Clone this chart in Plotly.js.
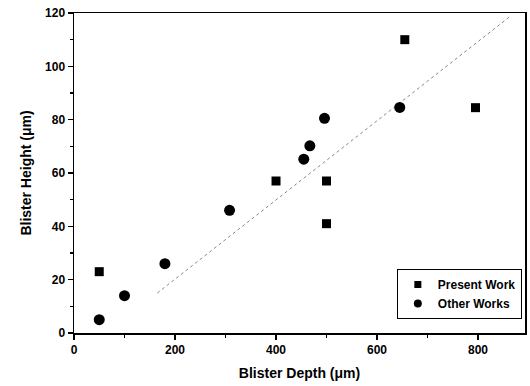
<!DOCTYPE html>
<html><head><meta charset="utf-8">
<script src="https://cdn.plot.ly/plotly-3.0.1.min.js"></script>
<style>html,body{margin:0;padding:0;background:#fff}#chart{width:530px;height:386px}</style>
</head><body><div id="chart"></div>
<script>
const presentDepth = [50, 400, 500, 500, 655, 795];
const presentHeight = [23, 57, 57, 41, 110, 84.5];
const otherDepth = [50, 100, 180, 308, 455, 467, 496, 645];
const otherHeight = [5, 14, 26, 46, 65.2, 70.2, 80.5, 84.6];
const fitDepth = [165, 862];
const fitHeight = [15, 118.5];
const seriesNames = ['Present Work', 'Other Works'];

const F = 'Liberation Sans, Arial, sans-serif';
const traces = [
  {x: fitDepth, y: fitHeight, mode: 'lines', showlegend: false, hoverinfo: 'skip',
   line: {color: '#888', width: 1, dash: 'dot'}},
  {x: presentDepth, y: presentHeight, mode: 'markers', name: seriesNames[0], showlegend: false,
   legendgroup: 'p', marker: {symbol: 'square', size: 9, color: '#000'}},
  {x: otherDepth, y: otherHeight, mode: 'markers', name: seriesNames[1], showlegend: false,
   legendgroup: 'o', marker: {symbol: 'circle', size: 11, color: '#000'}},
  {x: [null], y: [null], mode: 'markers', name: seriesNames[0], legendgroup: 'p',
   marker: {symbol: 'square', size: 7, color: '#000'}},
  {x: [null], y: [null], mode: 'markers', name: seriesNames[1], legendgroup: 'o',
   marker: {symbol: 'circle', size: 8, color: '#000'}}
];
const axisCommon = {
  showgrid: false, zeroline: false, showline: true, linecolor: '#000', linewidth: 1.5,
  mirror: true, ticks: 'outside', ticklen: 5, tickwidth: 1.2, tickcolor: '#000',
  tickfont: {family: F, size: 12, color: '#000', weight: 'bold'}
};
const layout = {
  width: 530, height: 386,
  margin: {l: 74, r: 5, t: 13, b: 53},
  paper_bgcolor: '#fff', plot_bgcolor: '#fff',
  font: {family: F, color: '#000'},
  xaxis: Object.assign({}, axisCommon, {
    range: [0, 893], tickvals: [0, 200, 400, 600, 800],
    minor: {tickvals: [100, 300, 500, 700], ticks: 'outside', ticklen: 3, tickcolor: '#000'},
    title: {text: '<b>Blister Depth (μm)</b>', font: {family: F, size: 14, color: '#000'}, standoff: 12}
  }),
  yaxis: Object.assign({}, axisCommon, {
    range: [0, 120], tickvals: [0, 20, 40, 60, 80, 100, 120],
    minor: {tickvals: [10, 30, 50, 70, 90, 110], ticks: 'outside', ticklen: 3, tickcolor: '#000'},
    title: {text: '<b>Blister Height (μm)</b>', font: {family: F, size: 14, color: '#000'}, standoff: 10}
  }),
  legend: {
    x: 0.993, y: 0.044, xanchor: 'right', yanchor: 'bottom',
    bgcolor: '#fff', bordercolor: '#000', borderwidth: 1,
    font: {family: F, size: 12, color: '#000', weight: 'bold'},
    tracegroupgap: 0
  },
  showlegend: true
};
Plotly.newPlot('chart', traces, layout, {displayModeBar: false, staticPlot: true});
</script></body></html>
